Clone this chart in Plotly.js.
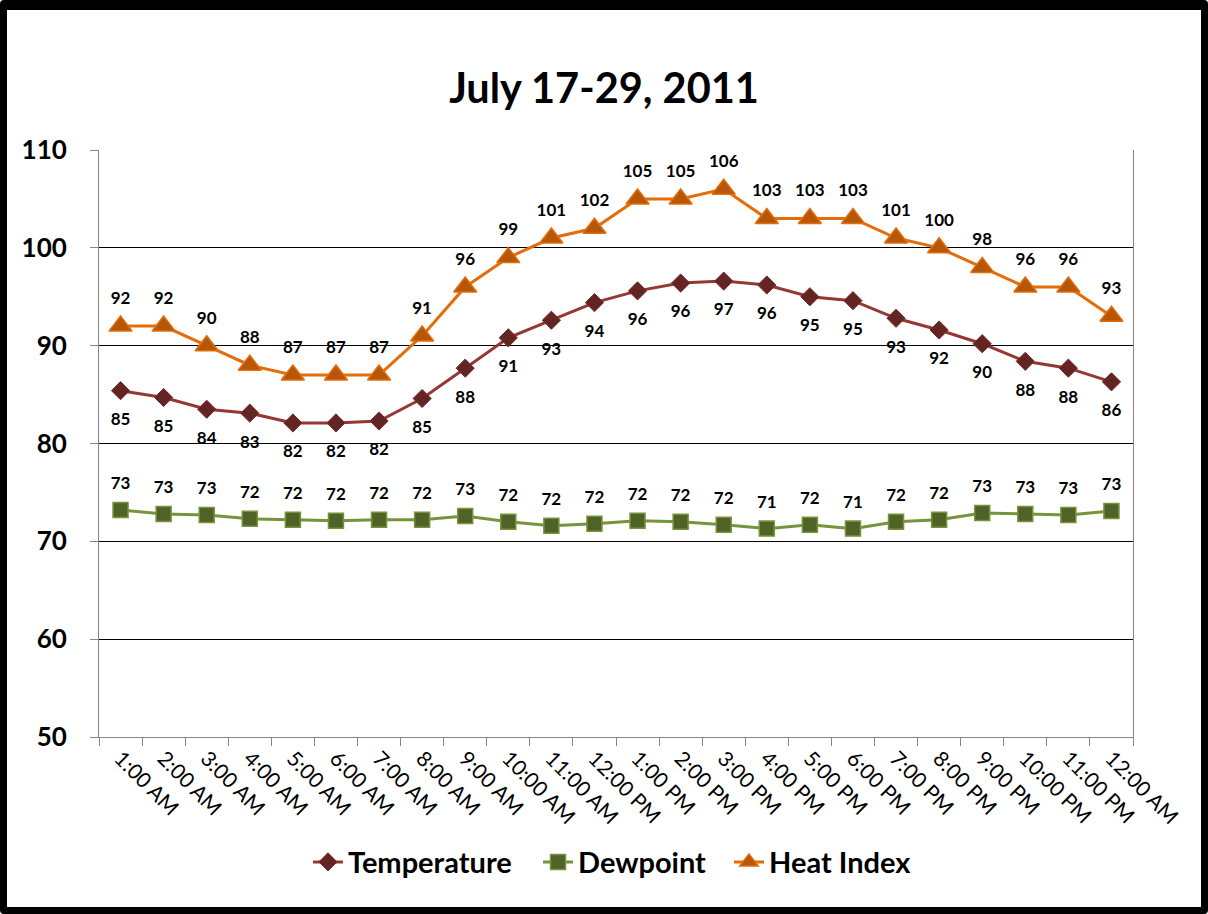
<!DOCTYPE html>
<html>
<head>
<meta charset="utf-8">
<script src="https://cdn.plot.ly/plotly-3.0.1.min.js"></script>
<style>
  html, body { margin: 0; padding: 0; background: #fff; }
  #wrap { position: relative; width: 1208px; height: 914px; }
  #chart { width: 1208px; height: 914px; }
  #frame { position: absolute; left: 0; top: 0; width: 1208px; height: 914px; box-sizing: border-box;
           border-style: solid; border-color: #000; border-width: 10px 7px 7px 7px; border-radius: 4px; pointer-events: none; }
</style>
</head>
<body>
<div id="wrap">
  <div id="chart"></div>
  <div id="frame"></div>
</div>
<script>
const hours = ["1:00 AM","2:00 AM","3:00 AM","4:00 AM","5:00 AM","6:00 AM","7:00 AM","8:00 AM","9:00 AM","10:00 AM","11:00 AM","12:00 PM",
               "1:00 PM","2:00 PM","3:00 PM","4:00 PM","5:00 PM","6:00 PM","7:00 PM","8:00 PM","9:00 PM","10:00 PM","11:00 PM","12:00 AM"];
const temperature = [85.4, 84.7, 83.5, 83.1, 82.1, 82.1, 82.3, 84.6, 87.7, 90.8, 92.6, 94.4,
                     95.6, 96.4, 96.6, 96.2, 95.0, 94.6, 92.8, 91.6, 90.2, 88.4, 87.7, 86.3];
const dewpoint = [73.2, 72.8, 72.7, 72.3, 72.2, 72.1, 72.2, 72.2, 72.6, 72.0, 71.6, 71.8,
                  72.1, 72.0, 71.7, 71.3, 71.7, 71.3, 72.0, 72.2, 72.9, 72.8, 72.7, 73.1];
const heatIndex = [92, 92, 90, 88, 87, 87, 87, 91, 96, 99, 101, 102,
                   105, 105, 106, 103, 103, 103, 101, 100, 98, 96, 96, 93];
const yTicks = [50, 60, 70, 80, 90, 100, 110];

const FONT = "Lato, 'Open Sans', sans-serif";
const labelFont = {family: FONT, size: 17, color: "#000", weight: "bold"};

const traces = [
  {
    name: "Temperature", x: hours, y: temperature, type: "scatter", mode: "lines+markers", legend: "legend",
    line: {color: "#953735", width: 3},
    marker: {symbol: "diamond", size: 14, color: "#632523", line: {color: "#7a2b2a", width: 1}},
    hoverinfo: "x+y"
  },
  {
    name: "Dewpoint", x: hours, y: dewpoint, type: "scatter", mode: "lines+markers", legend: "legend2",
    line: {color: "#77933C", width: 3},
    marker: {symbol: "square", size: 15, color: "#4F6228", line: {color: "#77933C", width: 1.5}},
    hoverinfo: "x+y"
  },
  {
    name: "Heat Index", x: hours, y: heatIndex, type: "scatter", mode: "lines+markers", legend: "legend3",
    line: {color: "#E46C0A", width: 3},
    marker: {symbol: "triangle-up", size: 20, color: "#B65708", line: {color: "#E46C0A", width: 1.5}},
    hoverinfo: "x+y"
  },
  // data labels (invisible markers only set the label offset)
  {
    x: hours, y: temperature, type: "scatter", mode: "markers+text", showlegend: false, hoverinfo: "skip",
    marker: {size: 33, color: "rgba(0,0,0,0)"},
    texttemplate: "%{y:.0f}", textposition: "bottom center", textfont: labelFont
  },
  {
    x: hours, y: dewpoint, type: "scatter", mode: "markers+text", showlegend: false, hoverinfo: "skip",
    marker: {size: 25, color: "rgba(0,0,0,0)"},
    texttemplate: "%{y:.0f}", textposition: "top center", textfont: labelFont
  },
  {
    x: hours, y: heatIndex, type: "scatter", mode: "markers+text", showlegend: false, hoverinfo: "skip",
    marker: {size: 27, color: "rgba(0,0,0,0)"},
    texttemplate: "%{y:.0f}", textposition: "top center", textfont: labelFont
  }
];

function legendAt(x) {
  return {
    orientation: "h", x: x, xanchor: "left", y: -0.213, yanchor: "middle",
    font: {family: FONT, size: 29, color: "#000", weight: "bold"},
    bgcolor: "rgba(0,0,0,0)", itemwidth: 30
  };
}

const layout = {
  width: 1208, height: 914,
  paper_bgcolor: "#fff", plot_bgcolor: "#fff",
  margin: {l: 99, r: 75, t: 150, b: 177},
  title: {
    text: "July 17-29, 2011",
    font: {family: FONT, size: 41.5, color: "#000", weight: "bold"},
    x: 0.5, xanchor: "center", y: 1 - 88 / 914, yanchor: "middle", yref: "container"
  },
  xaxis: {
    type: "category", range: [-0.5, hours.length - 0.5], autorange: false,
    tickson: "boundaries", ticks: "outside", ticklen: 8, tickcolor: "#868686", tickwidth: 1,
    showline: true, linecolor: "#868686", linewidth: 1, showgrid: false, tickangle: 45,
    tickfont: {family: FONT, size: 21, color: "#000"},
    automargin: false, fixedrange: true
  },
  yaxis: {
    range: [50, 110], autorange: false, tickvals: yTicks, ticktext: yTicks.map(String),
    ticks: "outside", ticklen: 8, tickcolor: "#868686", tickwidth: 1,
    showline: true, linecolor: "#868686", linewidth: 1, mirror: true,
    showgrid: true, gridcolor: "#000", gridwidth: 1, zeroline: false,
    ticklabelstandoff: 18,
    tickfont: {family: FONT, size: 26, color: "#000", weight: "bold"},
    automargin: false, fixedrange: true
  },
  showlegend: true,
  legend: legendAt(0.2021),
  legend2: legendAt(0.4246),
  legend3: legendAt(0.6093)
};

Plotly.newPlot("chart", traces, layout, {displayModeBar: false, staticPlot: true});
</script>
</body>
</html>
